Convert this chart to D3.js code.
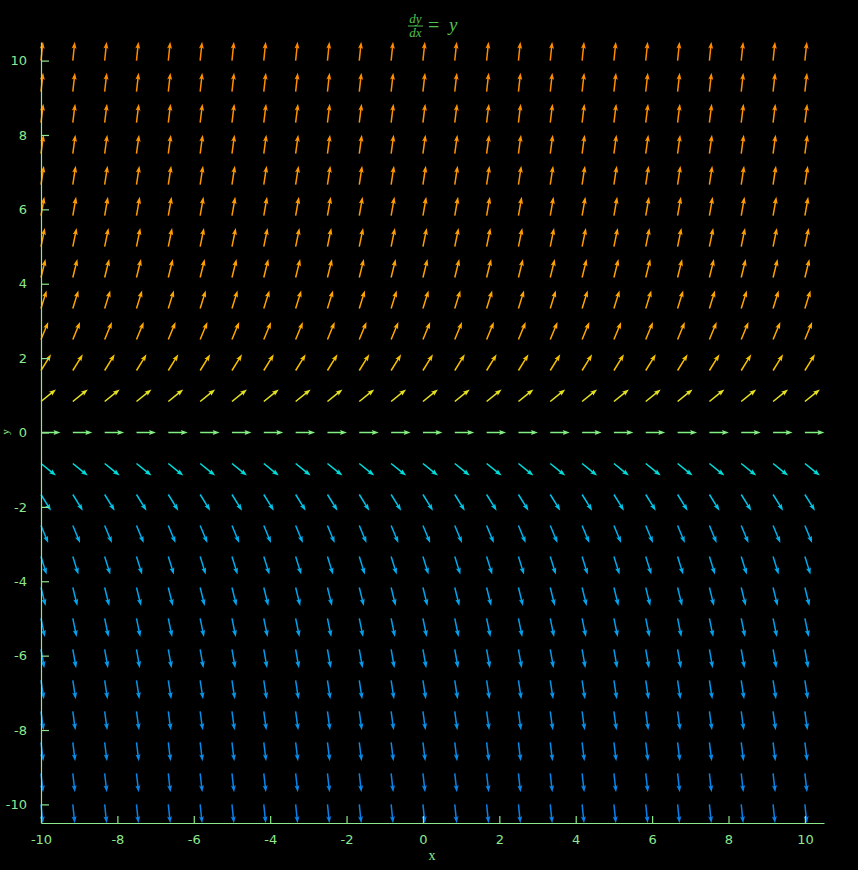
<!DOCTYPE html>
<html>
<head>
<meta charset="utf-8">
<script src="https://cdn.jsdelivr.net/npm/d3@7"></script>
<style>
  html, body { margin: 0; padding: 0; background: #000; }
  svg { display: block; }
</style>
</head>
<body>
<svg id="chart" width="858" height="870"></svg>
<script>
// ---- data ----
const gridX = [-10, -9.167, -8.333, -7.5, -6.667, -5.833, -5, -4.167, -3.333, -2.5, -1.667, -0.833, 0,
               0.833, 1.667, 2.5, 3.333, 4.167, 5, 5.833, 6.667, 7.5, 8.333, 9.167, 10];
const gridY = [-10, -9.167, -8.333, -7.5, -6.667, -5.833, -5, -4.167, -3.333, -2.5, -1.667, -0.833, 0,
               0.833, 1.667, 2.5, 3.333, 4.167, 5, 5.833, 6.667, 7.5, 8.333, 9.167, 10];
const xTicks = [-10, -8, -6, -4, -2, 0, 2, 4, 6, 8, 10];
const yTicks = [-10, -8, -6, -4, -2, 0, 2, 4, 6, 8, 10];
const slope = (xv, yv) => yv;       // dy/dx = y
const arrowLen = 0.51;              // normalised arrow length (data units)

// colour stops (by slope)
const colorSlopes = [-10, -2.5, -1.667, -0.833, 0, 0.833, 1.667, 2.5, 10];
const colorValues = ["#0a80e8", "#00b0ee", "#00c4e8", "#00dcdc", "#80f080", "#e6e020", "#f5c000", "#ffa800", "#ff8a00"];

(function () {
const svg = d3.select("#chart");
const W = 858, H = 870;
svg.append("rect").attr("width", W).attr("height", H).attr("fill", "#000");

const mLeft = 41, mRight = 824, mTop = 42, mBottom = 823;
const x = d3.scaleLinear().domain([-10, 10.5]).range([mLeft, mRight]);
const y = d3.scaleLinear().domain([-10.5, 10.5]).range([mBottom, mTop]);
const color = d3.scaleLinear().domain(colorSlopes).range(colorValues).clamp(true);

const axisColor = "#8ee88e";

// ---- arrows ----
const pts = [];
gridY.forEach(gy => gridX.forEach(gx => pts.push({gx, gy})));

const sw = 1.5, headLen = 7, headW = 5, headAxis = 6;
function arrowPath(d) {
  const s = slope(d.gx, d.gy);
  const n = Math.sqrt(1 + s * s);
  const x0 = x(d.gx), y0 = y(d.gy);
  const x1 = x(d.gx + arrowLen / n), y1 = y(d.gy + arrowLen * s / n);
  const L = Math.hypot(x1 - x0, y1 - y0);
  const ux = (x1 - x0) / L, uy = (y1 - y0) / L;
  const px = -uy, py = ux;
  const p = (a, b) => [x0 + ux * a + px * b, y0 + uy * a + py * b];
  const q = [
    p(0, -sw / 2), p(L - headAxis, -sw / 2), p(L - headLen, -headW / 2), p(L, 0),
    p(L - headLen, headW / 2), p(L - headAxis, sw / 2), p(0, sw / 2)
  ];
  return "M" + q.map(v => v[0].toFixed(2) + "," + v[1].toFixed(2)).join("L") + "Z";
}

svg.append("g").selectAll("path").data(pts).join("path")
  .attr("d", arrowPath)
  .attr("fill", d => color(slope(d.gx, d.gy)));

// ---- axes ----
const gxA = svg.append("g").attr("transform", `translate(0,${mBottom})`)
  .call(d3.axisBottom(x).tickValues(xTicks).tickSizeInner(-7).tickSizeOuter(0).tickPadding(12).tickFormat(d3.format("d")));
const gyA = svg.append("g").attr("transform", `translate(${mLeft},0)`)
  .call(d3.axisLeft(y).tickValues(yTicks).tickSizeInner(-8).tickSizeOuter(0).tickPadding(14).tickFormat(d3.format("d")));

[gxA, gyA].forEach(g => {
  g.select(".domain").attr("stroke", axisColor).attr("stroke-width", 1.2);
  g.selectAll(".tick line").attr("stroke", axisColor).attr("stroke-width", 1.2);
  g.selectAll(".tick text").attr("fill", axisColor)
    .attr("font-family", "DejaVu Sans, sans-serif").attr("font-size", 13);
});
[gxA, gyA].forEach(g => g.selectAll(".tick text").text(d => String(d)));

// axis labels
svg.append("text").attr("x", 432).attr("y", 860).attr("text-anchor", "middle")
  .attr("fill", axisColor).attr("font-family", "Liberation Serif, serif").attr("font-size", 14).text("x");
svg.append("text").attr("transform", "translate(9,432) rotate(-90)").attr("text-anchor", "middle")
  .attr("fill", axisColor).attr("font-family", "Liberation Serif, serif").attr("font-size", 11).text("y");

// ---- title: dy/dx = y ----
const titleColor = "#50c050";
const t = svg.append("g").attr("fill", titleColor).attr("font-family", "Liberation Serif, serif").attr("font-style", "italic");
t.append("text").attr("x", 415.5).attr("y", 23).attr("text-anchor", "middle").attr("font-size", 13).text("dy");
t.append("line").attr("x1", 408).attr("x2", 423).attr("y1", 26).attr("y2", 26).attr("stroke", titleColor).attr("stroke-width", 1);
t.append("text").attr("x", 415.5).attr("y", 37).attr("text-anchor", "middle").attr("font-size", 13).text("dx");
t.append("text").attr("x", 428).attr("y", 32).attr("font-size", 20).attr("font-style", "normal").text("=");
t.append("text").attr("x", 449).attr("y", 31).attr("font-size", 19).text("y");
})();
</script>
</body>
</html>
